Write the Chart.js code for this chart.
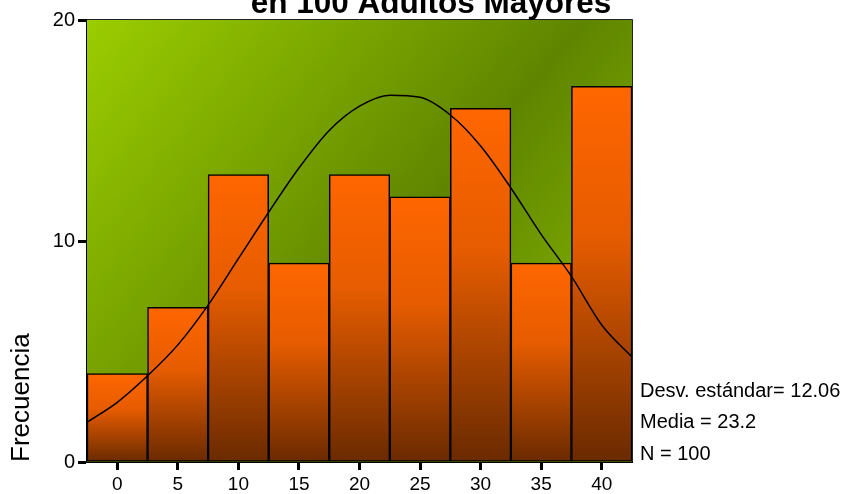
<!DOCTYPE html>
<html>
<head>
<meta charset="utf-8">
<script src="https://cdn.jsdelivr.net/npm/chart.js@4"></script>
<style>
  body { margin: 0; background: #fff; }
  #wrap { width: 847px; height: 494px; }
</style>
</head>
<body>
<div id="wrap"><canvas id="histo" width="847" height="494"></canvas></div>
<script>
// bins (centres) and frequencies
var binCenters = [0, 5, 10, 15, 20, 25, 30, 35, 40];
var frequencies = [4, 7, 13, 9, 13, 12, 16, 9, 17];
var xTicks = [0, 5, 10, 15, 20, 25, 30, 35, 40];
var yTicks = [0, 10, 20];

// normal curve
var curveX = [-2.5, 0, 2.5, 5, 7.5, 10, 12.5, 15, 17.5, 20, 22.5, 25, 27.5, 30, 32.5, 35, 37.5, 40, 42.5];
var curveY = [1.8, 2.7, 3.9, 5.3, 7.1, 9.2, 11.3, 13.3, 15.0, 16.1, 16.6, 16.5, 15.7, 14.3, 12.4, 10.3, 8.4, 6.2, 4.75];

var titleText = 'en 100 Adultos Mayores';
var statLines = ['Desv. estándar= 12.06', 'Media = 23.2', 'N = 100'];

var FONT = "'Liberation Sans', Arial, sans-serif";

var backgroundPlugin = {
    id: 'bgPlot',
    beforeDatasetsDraw: function(chart) {
        var a = chart.chartArea, ctx = chart.ctx;
        var g = ctx.createLinearGradient(a.left, a.top, a.right, a.bottom);
        g.addColorStop(0, '#9bcd00');
        g.addColorStop(0.55, '#5f8500');
        g.addColorStop(1, '#8fc000');
        ctx.save();
        ctx.fillStyle = g;
        ctx.fillRect(a.left, a.top, a.right - a.left, a.bottom - a.top);
        ctx.strokeStyle = '#222';
        ctx.lineWidth = 1;
        ctx.beginPath();
        ctx.moveTo(a.left, a.top - 0.5);
        ctx.lineTo(a.right + 0.5, a.top - 0.5);
        ctx.lineTo(a.right + 0.5, a.bottom);
        ctx.stroke();
        ctx.restore();
    }
};

var textPlugin = {
    id: 'texts',
    afterDraw: function(chart) {
        var ctx = chart.ctx;
        ctx.save();
        ctx.fillStyle = '#000';
        ctx.font = 'bold 31.5px ' + FONT;
        ctx.textAlign = 'center';
        ctx.textBaseline = 'alphabetic';
        ctx.fillText(titleText, 431, 13);

        ctx.font = '20px ' + FONT;
        ctx.textAlign = 'left';
        var ys = [397, 428, 460];
        for (var i = 0; i < statLines.length; i++) {
            ctx.fillText(statLines[i], 640, ys[i]);
        }
        ctx.restore();
    }
};

var ctx = document.getElementById('histo').getContext('2d');
var chart = new Chart(ctx, {
    type: 'bar',
    data: {
        datasets: [{
            type: 'line',
            data: curveX.map(function(x, i) { return { x: x, y: curveY[i] }; }),
            borderColor: '#000',
            borderWidth: 1.5,
            pointRadius: 0,
            cubicInterpolationMode: 'monotone',
            fill: false,
            order: 0
        }, {
            type: 'bar',
            data: binCenters.map(function(x, i) { return { x: x, y: frequencies[i] }; }),
            backgroundColor: function(c) {
                var ch = c.chart;
                if (!ch.chartArea || c.type !== 'data') return '#ff6600';
                var y = ch.scales.y;
                var top = y.getPixelForValue(c.parsed.y);
                var bottom = y.getPixelForValue(0);
                var g = ch.ctx.createLinearGradient(0, top, 0, bottom);
                g.addColorStop(0, '#ff6600');
                g.addColorStop(0.4, '#e65c00');
                g.addColorStop(1, '#6a2a00');
                return g;
            },
            borderColor: '#000',
            borderWidth: 1.5,
            borderSkipped: false,
            barPercentage: 1,
            categoryPercentage: 1,
            order: 1
        }]
    },
    options: {
        responsive: false,
        animation: false,
        layout: { padding: { top: 20, right: 215, left: 0, bottom: 0 } },
        plugins: {
            legend: { display: false },
            tooltip: { enabled: false }
        },
        scales: {
            x: {
                type: 'linear',
                min: -2.5,
                max: 42.5,
                offset: false,
                afterBuildTicks: function(axis) {
                    axis.ticks = xTicks.map(function(v) { return { value: v }; });
                },
                afterFit: function(axis) { axis.height = 32; },
                border: { display: true, color: '#000', width: 2 },
                grid: { display: true, offset: false, drawOnChartArea: false, drawTicks: true, tickLength: 8, tickWidth: 3, tickColor: '#000' },
                ticks: { color: '#000', font: { family: FONT, size: 19 }, padding: 3, maxRotation: 0, autoSkip: false }
            },
            y: {
                min: 0,
                max: 20,
                afterBuildTicks: function(axis) {
                    axis.ticks = yTicks.map(function(v) { return { value: v }; });
                },
                afterFit: function(axis) { axis.width = 87; },
                border: { display: true, color: '#000', width: 2 },
                grid: { display: true, drawOnChartArea: false, drawTicks: true, tickLength: 9, tickWidth: 3, tickColor: '#000' },
                ticks: { color: '#000', font: { family: FONT, size: 20 }, padding: 3 },
                title: {
                    display: true,
                    text: 'Frecuencia',
                    align: 'start',
                    color: '#000',
                    font: { family: FONT, size: 26, weight: 'normal' },
                    padding: { top: 6, bottom: 0 }
                }
            }
        }
    },
    plugins: [backgroundPlugin, textPlugin]
});
</script>
</body>
</html>
